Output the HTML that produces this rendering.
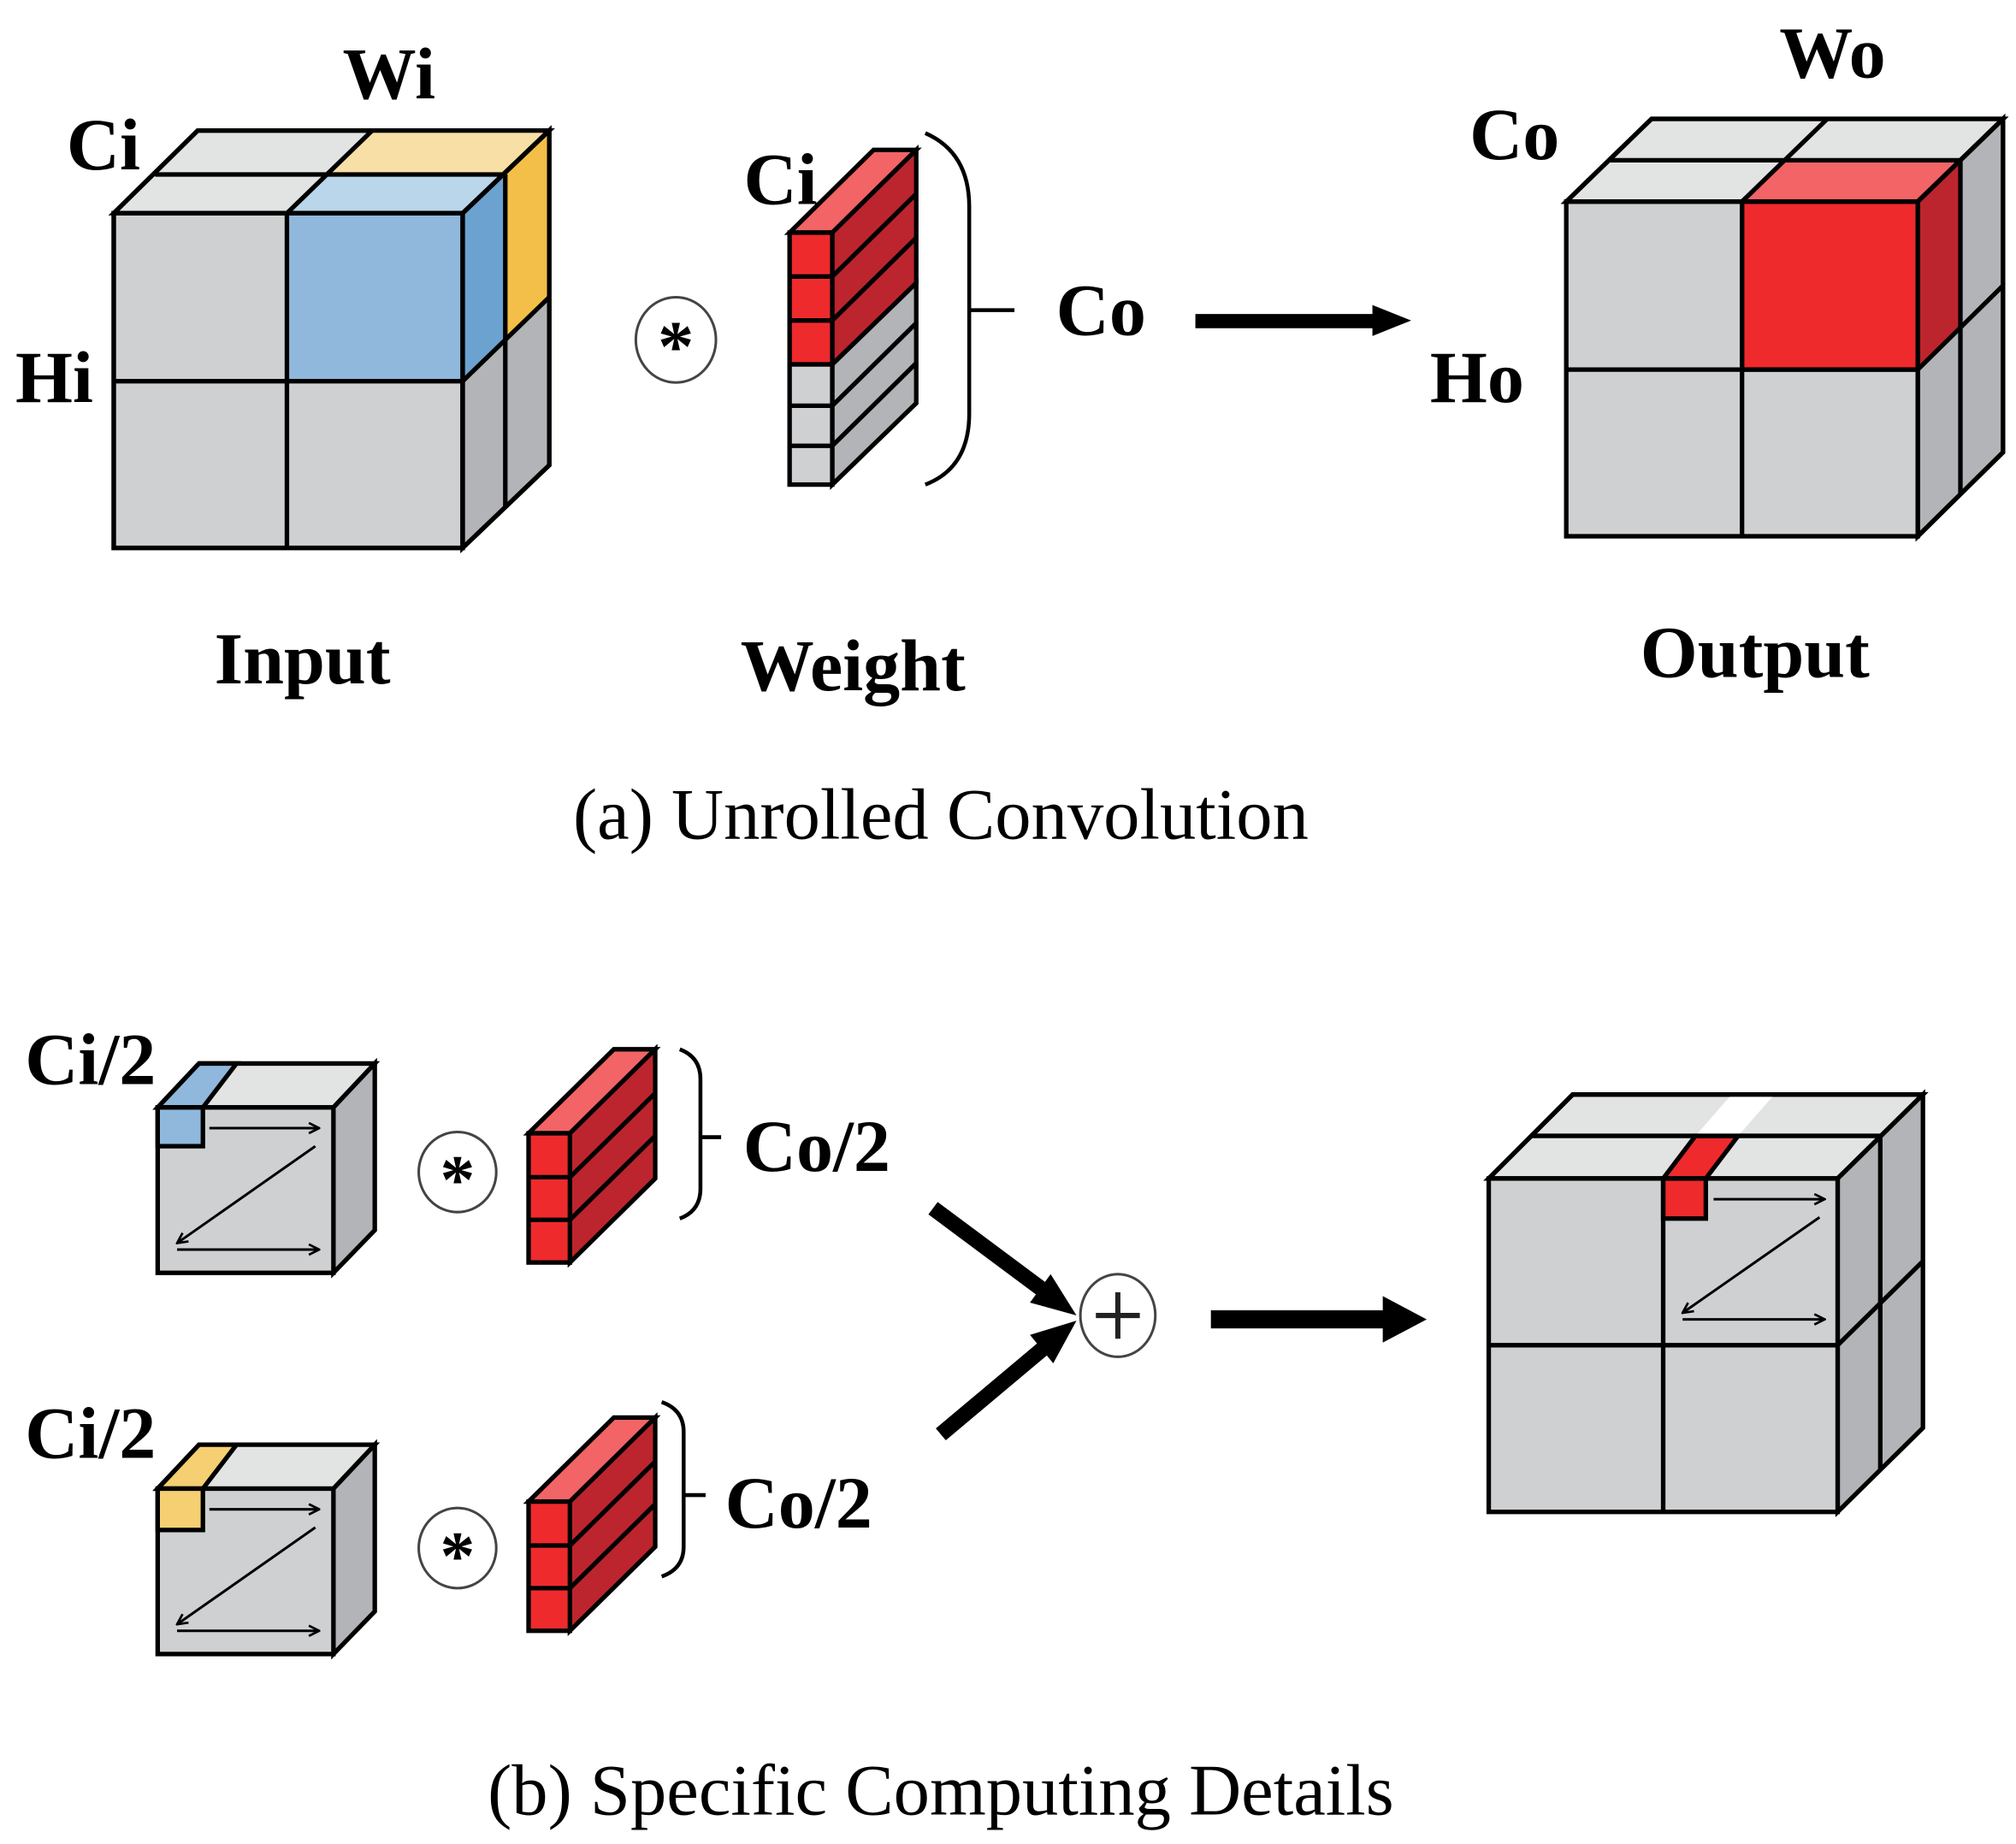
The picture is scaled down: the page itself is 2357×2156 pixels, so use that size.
<!DOCTYPE html>
<html><head><style>html,body{margin:0;padding:0;background:#fff}svg{display:block}</style></head>
<body>
<svg xmlns="http://www.w3.org/2000/svg" width="2357" height="2156" viewBox="0 0 1560 1427">
<defs>
<marker id="oa" markerWidth="10" markerHeight="10" refX="9" refY="5" orient="auto" markerUnits="userSpaceOnUse"><path d="M1,1 L9,5 L1,9" fill="none" stroke="#000" stroke-width="1.8"/></marker>
</defs>
<g stroke="#000" stroke-width="3.5" stroke-linejoin="miter">
<!-- Input cube -->
<polygon points="88,165 358,165 425,101 153,101" fill="#e2e3e3"/>
<polygon points="222,165 358,165 391,135 255,135" fill="#bad6ea" stroke="none"/>
<polygon points="255,135 391,135 425,101 288,101" fill="#f7dfa5" stroke="none"/>
<polygon points="358,165 425,101 425,360 358,424" fill="#b3b4b7"/>
<polygon points="358,165 391,135 391,262 358,295" fill="#6ca2cf" stroke="none"/>
<polygon points="391,135 425,101 425,230 391,262" fill="#f4bf48" stroke="none"/>
<rect x="88" y="165" width="270" height="259" fill="#cfd0d2"/>
<rect x="222" y="165" width="136" height="130" fill="#8fb8dc" stroke="none"/>
<polyline points="88,165 358,165 425,101 153,101 88,165" fill="none"/>
<line x1="120" y1="135" x2="391" y2="135"/>
<line x1="222" y1="165" x2="288" y2="101"/>
<line x1="391" y1="135" x2="391" y2="392"/>
<line x1="358" y1="295" x2="425" y2="230"/>
<line x1="88" y1="295" x2="358" y2="295"/>
<line x1="222" y1="165" x2="222" y2="424"/>
<polygon points="358,165 425,101 425,360 358,424" fill="none"/>
<rect x="88" y="165" width="270" height="259" fill="none"/>
<!-- Weight -->
<polygon points="611,180 644,180 709,116 676,116" fill="#f26466"/>
<polygon points="644,180 709,116 709,219 644,282" fill="#bc252d"/>
<polygon points="644,282 709,219 709,312 644,375" fill="#b3b4b7"/>
<rect x="611" y="180" width="33" height="102" fill="#ee2a2d"/>
<rect x="611" y="282" width="33" height="93" fill="#cfd0d2"/>
<line x1="611" y1="214" x2="644" y2="214"/><line x1="611" y1="248" x2="644" y2="248"/>
<line x1="611" y1="314" x2="644" y2="314"/><line x1="611" y1="345" x2="644" y2="345"/>
<line x1="644" y1="214" x2="709" y2="150"/><line x1="644" y1="248" x2="709" y2="184"/>
<line x1="644" y1="314" x2="709" y2="250"/><line x1="644" y1="345" x2="709" y2="281"/>
<!-- Output cube -->
<polygon points="1212,156 1484,156 1550,92 1278,92" fill="#e2e3e3"/>
<polygon points="1348,156 1484,156 1517,124 1381,124" fill="#f26466" stroke="none"/>
<polygon points="1484,156 1550,92 1550,350 1484,415" fill="#b3b4b7"/>
<polygon points="1484,156 1517,124 1517,253 1484,286" fill="#bc252d" stroke="none"/>
<rect x="1212" y="156" width="272" height="259" fill="#cfd0d2"/>
<rect x="1348" y="156" width="136" height="130" fill="#ee2a2d"/>
<line x1="1245" y1="124" x2="1517" y2="124"/>
<line x1="1348" y1="156" x2="1414" y2="92"/>
<line x1="1517" y1="124" x2="1517" y2="382"/>
<line x1="1484" y1="286" x2="1550" y2="221"/>
<line x1="1212" y1="286" x2="1484" y2="286"/>
<line x1="1348" y1="156" x2="1348" y2="415"/>
<polygon points="1212,156 1484,156 1550,92 1278,92" fill="none"/>
<polygon points="1484,156 1550,92 1550,350 1484,415" fill="none"/>
<!-- b cube 1 -->
<polygon points="122,857 258,857 290,823 154,823" fill="#e2e3e3"/>
<polygon points="122,857 157,857 183,823 154,823" fill="#8fb8dc"/>
<polygon points="258,857 290,823 290,952 258,985" fill="#b3b4b7"/>
<rect x="122" y="857" width="136" height="128" fill="#cfd0d2"/>
<rect x="122" y="857" width="35" height="30" fill="#8fb8dc"/>
<!-- b cube 2 -->
<polygon points="122,1152 258,1152 290,1118 154,1118" fill="#e2e3e3"/>
<polygon points="122,1152 157,1152 183,1118 154,1118" fill="#f5cf72"/>
<polygon points="258,1152 290,1118 290,1247 258,1280" fill="#b3b4b7"/>
<rect x="122" y="1152" width="136" height="128" fill="#cfd0d2"/>
<rect x="122" y="1152" width="35" height="32" fill="#f5cf72"/>
<!-- b weights -->
<polygon points="409,877 441,877 507,812 475,812" fill="#f26466"/>
<polygon points="441,877 507,812 507,912 441,977" fill="#bc252d"/>
<rect x="409" y="877" width="32" height="100" fill="#ee2a2d"/>
<line x1="409" y1="911" x2="441" y2="911"/><line x1="409" y1="944" x2="441" y2="944"/>
<line x1="441" y1="911" x2="507" y2="846"/><line x1="441" y1="944" x2="507" y2="879"/>
<polygon points="409,1162 441,1162 507,1097 475,1097" fill="#f26466"/>
<polygon points="441,1162 507,1097 507,1197 441,1262" fill="#bc252d"/>
<rect x="409" y="1162" width="32" height="100" fill="#ee2a2d"/>
<line x1="409" y1="1196" x2="441" y2="1196"/><line x1="409" y1="1229" x2="441" y2="1229"/>
<line x1="441" y1="1196" x2="507" y2="1131"/><line x1="441" y1="1229" x2="507" y2="1164"/>
<!-- b output cube -->
<polygon points="1152,912 1422,912 1488,847 1217,847" fill="#e2e3e3"/>
<polygon points="1422,912 1488,847 1488,1105 1422,1170" fill="#b3b4b7"/>
<rect x="1152" y="912" width="270" height="258" fill="#cfd0d2"/>
<polygon points="1287,912 1320,912 1345,879 1312,879" fill="#ee2a2d"/>
<polygon points="1312,879 1345,879 1373,847 1340,847" fill="#fff" stroke="none"/>
<rect x="1287" y="912" width="33" height="31" fill="#ee2a2d"/>
<line x1="1184" y1="879" x2="1455" y2="879"/>
<line x1="1455" y1="879" x2="1455" y2="1137"/>
<line x1="1422" y1="1041" x2="1488" y2="976"/>
<line x1="1152" y1="1041" x2="1422" y2="1041"/>
<line x1="1287" y1="912" x2="1287" y2="1170"/>
<polygon points="1152,912 1422,912 1488,847 1217,847" fill="none"/>
</g>
<!-- thin arrows -->
<g stroke="#000" stroke-width="2" marker-end="url(#oa)">
<line x1="162" y1="873" x2="247" y2="873"/><line x1="244" y1="887" x2="137" y2="962"/><line x1="137" y1="967" x2="247" y2="967"/>
<line x1="162" y1="1168" x2="247" y2="1168"/><line x1="244" y1="1182" x2="137" y2="1257"/><line x1="137" y1="1262" x2="247" y2="1262"/>
<line x1="1326" y1="928" x2="1412" y2="928"/><line x1="1408" y1="942" x2="1302" y2="1016"/><line x1="1302" y1="1021" x2="1412" y2="1021"/>
</g>
<!-- brackets -->
<g fill="none" stroke="#000" stroke-width="3">
<path d="M716,103 Q750,118 750,160 L750,320 Q750,362 716,375"/><line x1="750" y1="240" x2="785" y2="240"/>
<path d="M526,812 Q542,818 542,835 L542,920 Q542,937 526,943"/><line x1="542" y1="880" x2="558" y2="880"/>
<path d="M512,1085 Q529,1091 529,1108 L529,1197 Q529,1214 512,1220"/><line x1="529" y1="1157" x2="546" y2="1157"/>
</g>
<!-- operator circles -->
<g fill="none" stroke="#444" stroke-width="2">
<ellipse cx="523" cy="263" rx="31" ry="33"/>
<ellipse cx="354" cy="907" rx="30" ry="31"/>
<ellipse cx="354" cy="1198" rx="30" ry="31"/>
<ellipse cx="865" cy="1018" rx="29" ry="32"/>
</g>
<g font-family="Liberation Serif, serif" font-weight="bold" text-anchor="middle" fill="#000">
<text x="523" y="287" font-size="56">*</text>
<text x="354" y="931" font-size="54">*</text>
<text x="354" y="1222" font-size="54">*</text>
</g>
<g stroke="#222" stroke-width="4"><line x1="865" y1="1000" x2="865" y2="1036"/><line x1="848" y1="1018" x2="882" y2="1018"/></g>
<!-- thick arrows -->
<g fill="#000">
<rect x="925" y="243" width="140" height="11"/><polygon points="1062,236 1092,248 1062,260"/>
<rect x="937" y="1014" width="136" height="14"/><polygon points="1070,1003 1104,1021 1070,1039"/>
</g>
<g stroke="#000" stroke-width="12">
<line x1="722" y1="935" x2="808" y2="999"/>
<line x1="728" y1="1110" x2="809" y2="1042"/>
</g>
<g fill="#000">
<polygon points="833,1018 797,1008 813,986"/>
<polygon points="833,1022 815,1055 797,1033"/>
</g>
<!-- labels -->
<g font-family="Liberation Serif, serif" font-weight="bold" fill="#000" text-anchor="middle" font-size="57">
<text x="301" y="76">Wi</text>
<text x="80" y="131">Ci</text>
<text x="42" y="311">Hi</text>
<text x="604" y="158">Ci</text>
<text x="852" y="259">Co</text>
<text x="1418" y="60">Wo</text>
<text x="1172" y="123">Co</text>
<text x="1143" y="311">Ho</text>
<text x="234" y="529">Input</text>
<text x="660" y="534">Weight</text>
<text x="1358" y="524">Output</text>
<text x="70" y="839">Ci/2</text>
<text x="70" y="1128">Ci/2</text>
<text x="632" y="906">Co/2</text>
<text x="618" y="1182">Co/2</text>
</g>
<g font-family="Liberation Serif, serif" fill="#000" text-anchor="middle" font-size="56">
<text x="728" y="649">(a) Unrolled Convolution</text>
<text x="728" y="1404">(b) Specific Computing Details</text>
</g>
</svg>
</body></html>
